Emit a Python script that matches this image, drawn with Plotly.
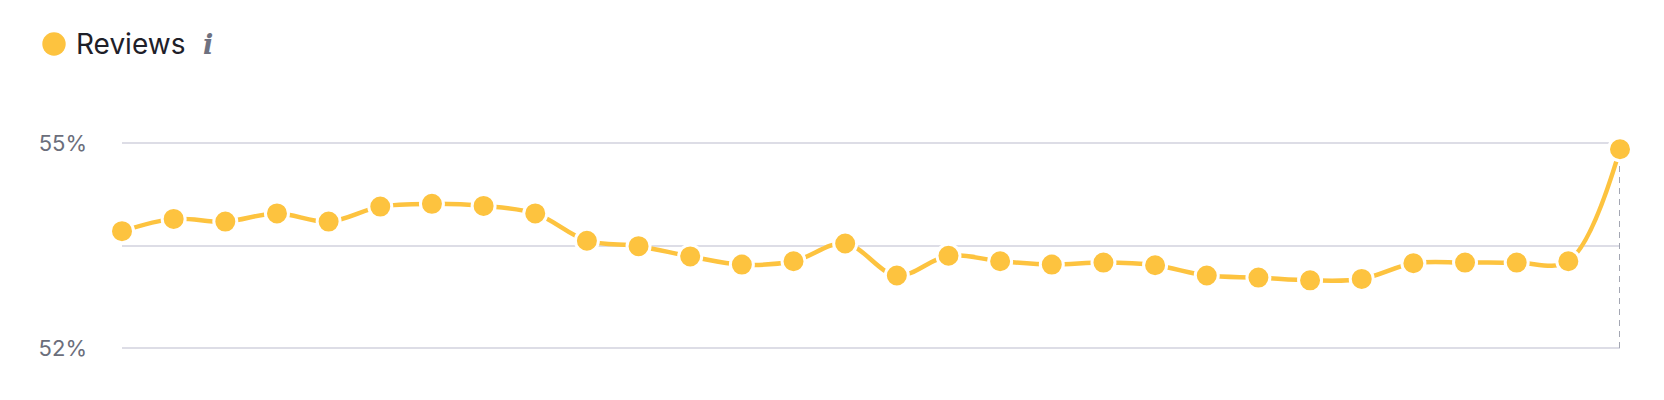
import plotly.graph_objects as go

# daily share of reviews, last point is the current (partial) day
days = [1, 2, 3, 4, 5, 6, 7, 8, 9, 10, 11, 12, 13, 14, 15,
        16, 17, 18, 19, 20, 21, 22, 23, 24, 25, 26, 27, 28, 29, 30]
reviews = [53.71, 53.89, 53.85, 53.97, 53.85, 54.07, 54.11, 54.08, 53.97, 53.57,
           53.49, 53.34, 53.22, 53.27, 53.53, 53.06, 53.35, 53.27, 53.22, 53.25,
           53.21, 53.06, 53.03, 52.99, 53.01, 53.24, 53.25, 53.25, 53.27, 54.91]
tick_vals = [52, 53.5, 55]
tick_text = ['52%', '', '55%']

YELLOW = '#FDC33F'

fig = go.Figure()

# dashed marker line for the latest point
fig.add_trace(go.Scatter(
    x=[days[-1], days[-1]], y=[tick_vals[0], reviews[-1]],
    mode='lines', line=dict(color='#A3A6B2', width=2, dash='6px,5px'),
    hoverinfo='skip', showlegend=False, cliponaxis=False))

fig.add_trace(go.Scatter(
    x=days, y=reviews, name='Reviews',
    mode='lines+markers',
    line=dict(color=YELLOW, width=4.5, shape='spline', smoothing=1),
    marker=dict(size=23, color=YELLOW, line=dict(color='white', width=3)),
    cliponaxis=False, showlegend=False))

fig.update_layout(
    width=1664, height=400,
    margin=dict(l=114, r=52, t=101, b=26),
    paper_bgcolor='white', plot_bgcolor='white',
    font=dict(family='Inter', color='#6B6E7B'),
    xaxis=dict(range=[days[0], days[-1]], showgrid=False, zeroline=False,
               showticklabels=False, showline=False, fixedrange=True),
    yaxis=dict(range=[51.5, 55.5], tickvals=tick_vals, ticktext=tick_text,
               showgrid=True, gridcolor='#DDDDE6', gridwidth=1.5,
               zeroline=False, showline=False,
               tickfont=dict(size=22, color='#6B6E7B'),
               ticklabelstandoff=34, fixedrange=True),
    shapes=[dict(type='circle', xref='paper', yref='paper',
                 xsizemode='pixel', ysizemode='pixel',
                 xanchor=0, yanchor=1,
                 x0=-68 - 11.7, x1=-68 + 11.7, y0=65 - 11.7, y1=65 + 11.7,
                 fillcolor=YELLOW, line=dict(width=0))],
    annotations=[
        dict(text='Reviews', xref='paper', yref='paper', x=0, y=1,
             xanchor='left', yanchor='middle', xshift=-48, yshift=65.5,
             showarrow=False, font=dict(size=28, color='#1E2029', family='Inter')),
        dict(text='<b><i>i</i></b>', xref='paper', yref='paper', x=0, y=1,
             xanchor='center', yanchor='middle', xshift=86, yshift=65,
             showarrow=False, font=dict(size=27, color='#6E7180', family='DejaVu Serif')),
    ],
)

fig.write_html('out.html')
